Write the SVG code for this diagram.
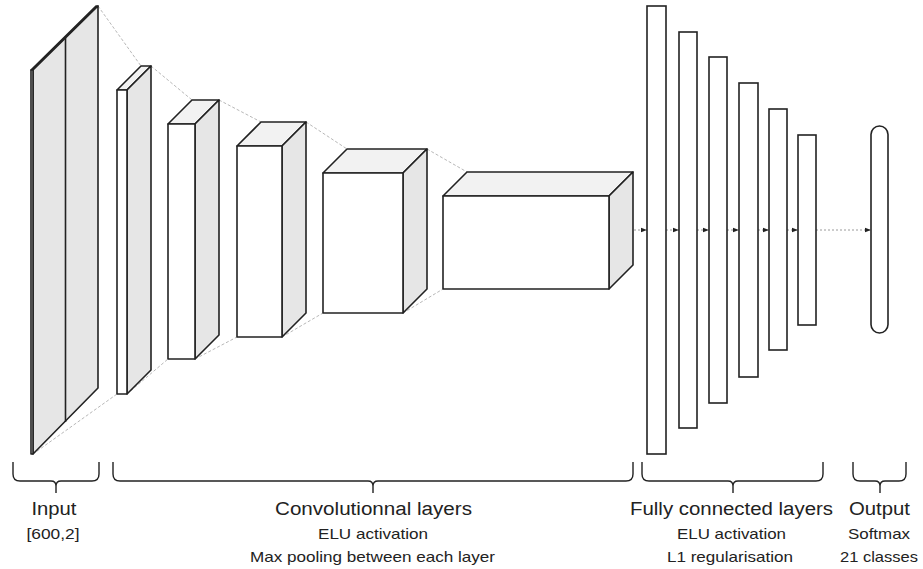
<svg xmlns="http://www.w3.org/2000/svg" width="923" height="569" viewBox="0 0 923 569">
<defs>
<style>
.front{fill:#ffffff;stroke:#222;stroke-width:1.6;stroke-linejoin:round}
.top{fill:#f2f2f2;stroke:#222;stroke-width:1.6;stroke-linejoin:round}
.side{fill:#e6e6e6;stroke:#222;stroke-width:1.6;stroke-linejoin:round}
.guide{fill:none;stroke:#b8b8b8;stroke-width:1;stroke-dasharray:3 2}
.flow{fill:none;stroke:#9a9a9a;stroke-width:1;stroke-dasharray:2 2}
.bar{fill:#ffffff;stroke:#222;stroke-width:1.6}
.brace{fill:none;stroke:#222;stroke-width:1.4}
.big{font-family:"Liberation Sans",Arial,sans-serif;font-size:18px;fill:#222;text-anchor:middle}
.small{font-family:"Liberation Sans",Arial,sans-serif;font-size:15px;fill:#222;text-anchor:middle}
</style>
<marker id="ah" viewBox="0 0 6 6" refX="6" refY="3" markerWidth="6" markerHeight="6" orient="auto" markerUnits="userSpaceOnUse">
<path d="M0,0.8 L6,3 L0,5.2 Z" fill="#222"/>
</marker>
</defs>
<rect width="923" height="569" fill="#ffffff"/>

<g id="connectors">
<!-- top guide lines -->
<path class="guide" d="M98,6 L141,66"/>
<path class="guide" d="M151,66 L192,100"/>
<path class="guide" d="M219,100 L261,122"/>
<path class="guide" d="M306,122 L347,149"/>
<path class="guide" d="M427,149 L467,172"/>
<!-- bottom guide lines -->
<path class="guide" d="M33,454 L117,394"/>
<path class="guide" d="M127,394 L168,359"/>
<path class="guide" d="M195,359 L237,337"/>
<path class="guide" d="M282,337 L323,313"/>
<path class="guide" d="M403,313 L443,289"/>
<!-- flow arrows -->
<path class="flow" d="M634,230 L647,230" marker-end="url(#ah)"/>
<path class="flow" d="M666,230 L679,230" marker-end="url(#ah)"/>
<path class="flow" d="M697,230 L709,230" marker-end="url(#ah)"/>
<path class="flow" d="M727,230 L739,230" marker-end="url(#ah)"/>
<path class="flow" d="M758,230 L769,230" marker-end="url(#ah)"/>
<path class="flow" d="M787,230 L798,230" marker-end="url(#ah)"/>
<path class="flow" d="M816,230 L871,230" marker-end="url(#ah)"/>
</g>

<g id="input">
<polygon class="top" points="31,70 33,70 98,6 96,6"/>
<polygon class="side" points="33,70 98,6 98,388 33,454"/>
<line x1="65.5" y1="38" x2="65.5" y2="422" stroke="#222" stroke-width="1.6"/>
<rect class="front" x="31" y="70" width="2" height="384"/>
</g>

<g id="conv1">
<polygon class="top" points="117,90 127,90 151,66 141,66"/>
<polygon class="side" points="127,90 151,66 151,370 127,394"/>
<rect class="front" x="117" y="90" width="10" height="304"/>
</g>

<g id="conv2">
<polygon class="top" points="168,124 195,124 219,100 192,100"/>
<polygon class="side" points="195,124 219,100 219,335 195,359"/>
<rect class="front" x="168" y="124" width="27" height="235"/>
</g>

<g id="conv3">
<polygon class="top" points="237,146 282,146 306,122 261,122"/>
<polygon class="side" points="282,146 306,122 306,313 282,337"/>
<rect class="front" x="237" y="146" width="45" height="191"/>
</g>

<g id="conv4">
<polygon class="top" points="323,173 403,173 427,149 347,149"/>
<polygon class="side" points="403,173 427,149 427,289 403,313"/>
<rect class="front" x="323" y="173" width="80" height="140"/>
</g>

<g id="conv5">
<polygon class="top" points="443,196 609,196 633,172 467,172"/>
<polygon class="side" points="609,196 633,172 633,265 609,289"/>
<rect class="front" x="443" y="196" width="166" height="93"/>
</g>

<g id="fc1"><rect class="bar" x="647" y="6" width="19" height="448"/></g>
<g id="fc2"><rect class="bar" x="679" y="32" width="18" height="396"/></g>
<g id="fc3"><rect class="bar" x="709" y="57" width="18" height="346"/></g>
<g id="fc4"><rect class="bar" x="739" y="83" width="19" height="294"/></g>
<g id="fc5"><rect class="bar" x="769" y="109" width="18" height="241"/></g>
<g id="fc6"><rect class="bar" x="798" y="135" width="18" height="190"/></g>

<g id="output">
<rect class="bar" x="871" y="126" width="17" height="207" rx="8.5" ry="8.5"/>
</g>

<g id="label-input">
<path class="brace" d="M13,462 L13,474 Q13,481 20,481 L51,481 Q56,481 56,486 L56,493 M56,486 Q56,481 61,481 L92,481 Q99,481 99,474 L99,462"/>
<text class="big" x="54" y="515" textLength="45" lengthAdjust="spacingAndGlyphs">Input</text>
<text class="small" x="53" y="539" textLength="53" lengthAdjust="spacingAndGlyphs">[600,2]</text>
</g>

<g id="label-conv">
<path class="brace" d="M113,462 L113,474 Q113,481 120,481 L368,481 Q373,481 373,486 L373,493 M373,486 Q373,481 378,481 L626,481 Q633,481 633,474 L633,462"/>
<text class="big" x="373.5" y="515" textLength="197" lengthAdjust="spacingAndGlyphs">Convolutionnal layers</text>
<text class="small" x="373" y="539" textLength="110" lengthAdjust="spacingAndGlyphs">ELU activation</text>
<text class="small" x="372.5" y="562" textLength="245" lengthAdjust="spacingAndGlyphs">Max pooling between each layer</text>
</g>

<g id="label-fc">
<path class="brace" d="M642,462 L642,474 Q642,481 649,481 L728,481 Q733,481 733,486 L733,493 M733,486 Q733,481 738,481 L816,481 Q823,481 823,474 L823,462"/>
<text class="big" x="731.5" y="515" textLength="203" lengthAdjust="spacingAndGlyphs">Fully connected layers</text>
<text class="small" x="731.5" y="539" textLength="109" lengthAdjust="spacingAndGlyphs">ELU activation</text>
<text class="small" x="730" y="562" textLength="126" lengthAdjust="spacingAndGlyphs">L1 regularisation</text>
</g>

<g id="label-output">
<path class="brace" d="M853,462 L853,474 Q853,481 860,481 L875,481 Q880,481 880,486 L880,493 M880,486 Q880,481 885,481 L899,481 Q906,481 906,474 L906,462"/>
<text class="big" x="879.5" y="515" textLength="61" lengthAdjust="spacingAndGlyphs">Output</text>
<text class="small" x="879" y="539" textLength="62" lengthAdjust="spacingAndGlyphs">Softmax</text>
<text class="small" x="879" y="562" textLength="78" lengthAdjust="spacingAndGlyphs">21 classes</text>
</g>
</svg>
